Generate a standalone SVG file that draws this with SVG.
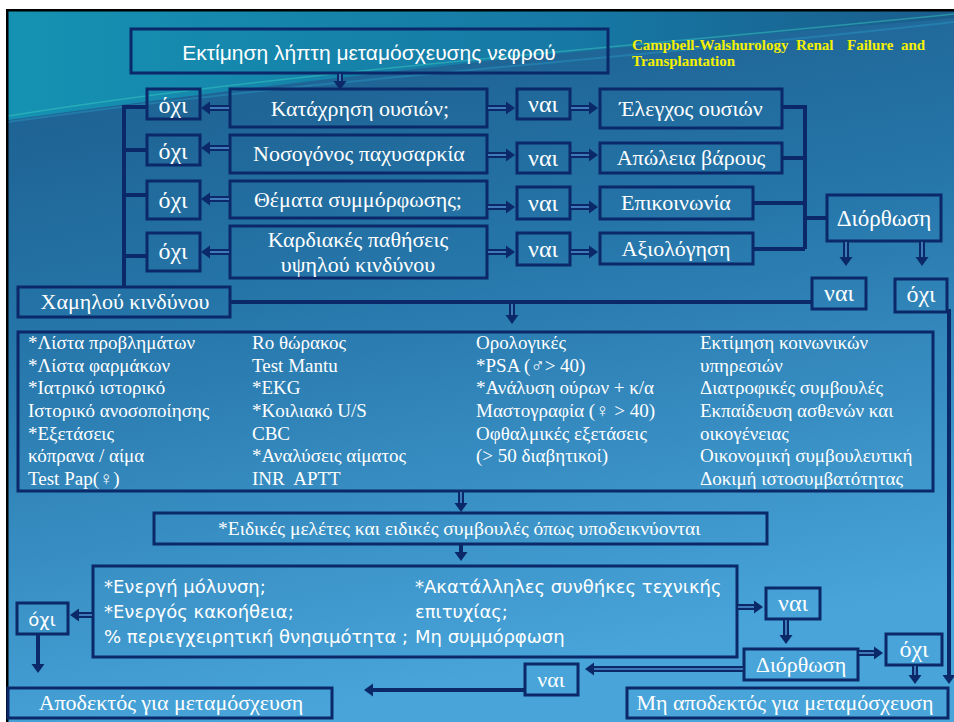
<svg xmlns="http://www.w3.org/2000/svg" width="954" height="722" viewBox="0 0 954 722">
<defs>
<linearGradient id="bg" x1="0" y1="0" x2="0.25" y2="1">
<stop offset="0" stop-color="#1a5a88"/>
<stop offset="0.45" stop-color="#2676aa"/>
<stop offset="1" stop-color="#48a4d9"/>
</linearGradient>
<linearGradient id="wave" x1="0" y1="0" x2="1" y2="0">
<stop offset="0" stop-color="#1592b2"/>
<stop offset="0.6" stop-color="#1678a4"/>
<stop offset="1" stop-color="#1a5d8c"/>
</linearGradient>
<marker id="ah" markerUnits="userSpaceOnUse" markerWidth="10" markerHeight="13" refX="0" refY="6.5" orient="auto" overflow="visible">
<path d="M0,0 L9,6.5 L0,13 Z" fill="#0b2868"/>
</marker>
<style>
.bx{fill:none;stroke:#0b2868;stroke-width:3}
.ln{fill:none;stroke:#0b2868;stroke-width:4}
.sh{fill:none;stroke:#0b2868;stroke-width:6}
.in{fill:none;stroke:#4f8fcf;stroke-width:1.6}
.so{fill:none;stroke:#0b2868;stroke-width:4}
.t{font-family:"Liberation Serif","DejaVu Serif",serif;fill:#ffffff}
.s{font-family:"Liberation Sans","DejaVu Sans",sans-serif;fill:#ffffff}
.d{font-family:"DejaVu Sans","Liberation Sans",sans-serif;fill:#ffffff}
.c{text-anchor:middle}
.m{font-size:22px}
.y{font-size:24px}
.b{font-size:19px}
</style>
</defs>
<rect x="0" y="0" width="954" height="722" fill="#ffffff"/>
<rect x="8" y="11" width="946" height="711" fill="url(#bg)"/>
<path d="M8,11 H954 V18 C760,36 520,50 8,120 Z" fill="url(#wave)"/>
<path d="M8,116 C280,72 600,50 954,14" fill="none" stroke="#3fd0c4" stroke-width="1.5" opacity="0.45"/>
<path d="M8,122 C300,80 620,60 954,22" fill="none" stroke="#2aa6d0" stroke-width="2" opacity="0.35"/>
<rect x="6" y="9" width="948" height="2.5" fill="#000000"/>
<rect x="6" y="9" width="2.5" height="713" fill="#000000"/>

<g id="title"><rect class="bx" x="131" y="29" width="477" height="44"/><text class="s c" x="369" y="60" font-size="21">Εκτίμηση λήπτη μεταμόσχευσης νεφρού</text></g>
<g id="citation"><text font-family="'Liberation Serif',serif" font-weight="bold" font-size="15" fill="#f4f000"><tspan x="632" y="50">Campbell-Walshurology</tspan><tspan x="796" y="50">Renal</tspan><tspan x="847" y="50">Failure</tspan><tspan x="901" y="50">and</tspan><tspan x="632" y="66">Transplantation</tspan></text></g>

<g id="no1"><rect class="bx" x="147" y="89" width="53" height="30"/><text class="t c y" x="173" y="113">όχι</text></g>
<g id="q1"><rect class="bx" x="230" y="89" width="257" height="38"/><text class="t c m" x="360" y="116">Κατάχρηση ουσιών;</text></g>
<g id="yes1"><rect class="bx" x="517" y="89" width="53" height="30"/><text class="t c y" x="543" y="112">ναι</text></g>
<g id="r1"><rect class="bx" x="600" y="89" width="182" height="39"/><text class="t c m" x="691" y="116">Έλεγχος ουσιών</text></g>

<g id="no2"><rect class="bx" x="147" y="135" width="53" height="30"/><text class="t c y" x="173" y="159">όχι</text></g>
<g id="q2"><rect class="bx" x="230" y="135" width="257" height="38"/><text class="t c m" x="359" y="161">Νοσογόνος παχυσαρκία</text></g>
<g id="yes2"><rect class="bx" x="517" y="143" width="53" height="30"/><text class="t c y" x="543" y="166">ναι</text></g>
<g id="r2"><rect class="bx" x="600" y="143" width="182" height="30"/><text class="t c m" x="691" y="165">Απώλεια βάρους</text></g>

<g id="no3"><rect class="bx" x="147" y="181" width="53" height="38"/><text class="t c y" x="173" y="208">όχι</text></g>
<g id="q3"><rect class="bx" x="230" y="181" width="257" height="37"/><text class="t c m" x="358" y="207">Θέματα συμμόρφωσης;</text></g>
<g id="yes3"><rect class="bx" x="517" y="187" width="53" height="32"/><text class="t c y" x="543" y="211">ναι</text></g>
<g id="r3"><rect class="bx" x="600" y="187" width="153" height="32"/><text class="t c m" x="676" y="210">Επικοινωνία</text></g>

<g id="no4"><rect class="bx" x="147" y="233" width="53" height="38"/><text class="t c y" x="173" y="259">όχι</text></g>
<g id="q4"><rect class="bx" x="230" y="226" width="257" height="52"/><text class="t c m" x="358" y="247">Καρδιακές παθήσεις</text><text class="t c m" x="358" y="272">υψηλού κινδύνου</text></g>
<g id="yes4"><rect class="bx" x="517" y="233" width="53" height="32"/><text class="t c y" x="543" y="257">ναι</text></g>
<g id="r4"><rect class="bx" x="600" y="233" width="153" height="31"/><text class="t c m" x="676" y="256">Αξιολόγηση</text></g>

<g id="fix1"><rect class="bx" x="827" y="195" width="114" height="46"/><text class="t c" x="884" y="226" font-size="23">Διόρθωση</text></g>
<g id="yes5"><rect class="bx" x="812" y="278" width="54" height="31"/><text class="t c y" x="839" y="301">ναι</text></g>
<g id="no5"><rect class="bx" x="895" y="279" width="52" height="33"/><text class="t c y" x="921" y="302">όχι</text></g>
<g id="low"><rect class="bx" x="18" y="287" width="212" height="30"/><text class="t c m" x="125" y="309">Χαμηλού κινδύνου</text></g>

<g id="workup"><rect class="bx" x="18" y="332" width="915" height="159"/>
<text class="t b"><tspan x="28" y="349">*Λίστα προβλημάτων</tspan><tspan x="28" y="372">*Λίστα φαρμάκων</tspan><tspan x="28" y="394">*Ιατρικό ιστορικό</tspan><tspan x="28" y="417">Ιστορικό ανοσοποίησης</tspan><tspan x="28" y="440">*Εξετάσεις</tspan><tspan x="28" y="462">κόπρανα / αίμα</tspan><tspan x="28" y="485">Test Pap(♀)</tspan></text>
<text class="t b"><tspan x="252" y="349">Ro θώρακος</tspan><tspan x="252" y="372">Test Mantu</tspan><tspan x="252" y="394">*EKG</tspan><tspan x="252" y="417">*Κοιλιακό U/S</tspan><tspan x="252" y="440">CBC</tspan><tspan x="252" y="462">*Αναλύσεις αίματος</tspan><tspan x="252" y="485">INR&#160; APTT</tspan></text>
<text class="t b"><tspan x="476" y="349">Ορολογικές</tspan><tspan x="476" y="372">*PSA (♂&gt; 40)</tspan><tspan x="476" y="394">*Ανάλυση ούρων + κ/α</tspan><tspan x="476" y="417">Μαστογραφία (♀ &gt; 40)</tspan><tspan x="476" y="440">Οφθαλμικές εξετάσεις</tspan><tspan x="476" y="462">(&gt; 50 διαβητικοί)</tspan></text>
<text class="t b"><tspan x="700" y="349">Εκτίμηση κοινωνικών</tspan><tspan x="700" y="372">υπηρεσιών</tspan><tspan x="700" y="394">Διατροφικές συμβουλές</tspan><tspan x="700" y="417">Εκπαίδευση ασθενών και</tspan><tspan x="700" y="440">οικογένειας</tspan><tspan x="700" y="462">Οικονομική συμβουλευτική</tspan><tspan x="700" y="485">Δοκιμή ιστοσυμβατότητας</tspan></text>
</g>

<g id="special"><rect class="bx" x="154" y="513" width="613" height="31"/><text class="t" x="218" y="535" font-size="19.5">*Ειδικές μελέτες και ειδικές συμβουλές όπως υποδεικνύονται</text></g>

<g id="conditions"><rect class="bx" x="93" y="566" width="644" height="91"/>
<text class="d" font-size="18"><tspan x="104" y="593">*Ενεργή μόλυνση;</tspan><tspan x="104" y="618">*Ενεργός κακοήθεια;</tspan><tspan x="104" y="643">% περιεγχειρητική θνησιμότητα ;</tspan></text>
<text class="d" font-size="18"><tspan x="415" y="593">*Ακατάλληλες συνθήκες τεχνικής</tspan><tspan x="415" y="618">επιτυχίας;</tspan><tspan x="415" y="643">Μη συμμόρφωση</tspan></text>
</g>

<g id="no6"><rect class="bx" x="17" y="603" width="51" height="31"/><text class="d c" x="42" y="626" font-size="18">όχι</text></g>
<g id="accept"><rect class="bx" x="8" y="688" width="324" height="30"/><text class="t c m" x="171" y="710">Αποδεκτός για μεταμόσχευση</text></g>
<g id="yes6"><rect class="bx" x="766" y="588" width="54" height="31"/><text class="t c y" x="793" y="611">ναι</text></g>
<g id="fix2"><rect class="bx" x="744" y="649" width="114" height="31"/><text class="t c m" x="801" y="672">Διόρθωση</text></g>
<g id="no7"><rect class="bx" x="886" y="634" width="56" height="31"/><text class="t c y" x="914" y="657">όχι</text></g>
<g id="yes7"><rect class="bx" x="525" y="664" width="53" height="31"/><text class="t c m" x="551" y="687">ναι</text></g>
<g id="reject"><rect class="bx" x="627" y="688" width="321" height="30"/><text class="t c m" x="785" y="710">Μη αποδεκτός για μεταμόσχευση</text></g>

<g id="connectors">
<path class="ln" d="M147,107 H124 V287 M124,150 H147 M124,195 H147 M124,256 H147"/>
<path class="ln" d="M782,107 H805 V249 M782,158 H805 M753,203 H805 M753,249 H805 M805,218 H827"/>
<path class="ln" d="M230,302 H812"/>

<path class="sh" d="M340,73 V81" marker-end="url(#ah)"/><path class="in" d="M340,74 V81"/>
<path class="sh" d="M230,108 H210" marker-end="url(#ah)"/><path class="in" d="M229,108 H210"/>
<path class="sh" d="M230,148 H210" marker-end="url(#ah)"/><path class="in" d="M229,148 H210"/>
<path class="sh" d="M230,199 H210" marker-end="url(#ah)"/><path class="in" d="M229,199 H210"/>
<path class="sh" d="M230,252 H210" marker-end="url(#ah)"/><path class="in" d="M229,252 H210"/>
<path class="sh" d="M487,108 H506" marker-end="url(#ah)"/><path class="in" d="M488,108 H506"/>
<path class="sh" d="M487,155 H506" marker-end="url(#ah)"/><path class="in" d="M488,155 H506"/>
<path class="sh" d="M487,207 H506" marker-end="url(#ah)"/><path class="in" d="M488,207 H506"/>
<path class="sh" d="M487,252 H506" marker-end="url(#ah)"/><path class="in" d="M488,252 H506"/>
<path class="sh" d="M570,108 H589" marker-end="url(#ah)"/><path class="in" d="M571,108 H589"/>
<path class="sh" d="M570,155 H589" marker-end="url(#ah)"/><path class="in" d="M571,155 H589"/>
<path class="sh" d="M570,207 H589" marker-end="url(#ah)"/><path class="in" d="M571,207 H589"/>
<path class="sh" d="M570,252 H589" marker-end="url(#ah)"/><path class="in" d="M571,252 H589"/>
<path class="sh" d="M846,241 V257" marker-end="url(#ah)"/><path class="in" d="M846,242 V257"/>
<path class="sh" d="M922,241 V257" marker-end="url(#ah)"/><path class="in" d="M922,242 V257"/>
<path class="sh" d="M512,302 V315" marker-end="url(#ah)"/><path class="in" d="M512,304 V315"/>
<path class="so" d="M949,309 V675" marker-end="url(#ah)"/>
<path class="sh" d="M461,491 V503" marker-end="url(#ah)"/><path class="in" d="M461,492 V503"/>
<path class="so" d="M461,544 V552" marker-end="url(#ah)"/>
<path class="sh" d="M93,615 H79" marker-end="url(#ah)"/><path class="in" d="M92,615 H79"/>
<path class="so" d="M38,634 V664" marker-end="url(#ah)"/>
<path class="sh" d="M737,607 H754" marker-end="url(#ah)"/><path class="in" d="M738,607 H754"/>
<path class="sh" d="M786,619 V635" marker-end="url(#ah)"/><path class="in" d="M786,620 V635"/>
<path class="sh" d="M858,653 H874" marker-end="url(#ah)"/><path class="in" d="M859,653 H874"/>
<path class="sh" d="M915,665 V675" marker-end="url(#ah)"/><path class="in" d="M915,666 V675"/>
<path class="sh" d="M744,669 H594" marker-end="url(#ah)"/><path class="in" d="M743,669 H594"/>
<path class="so" d="M525,690 H373" marker-end="url(#ah)"/>
</g>
</svg>
